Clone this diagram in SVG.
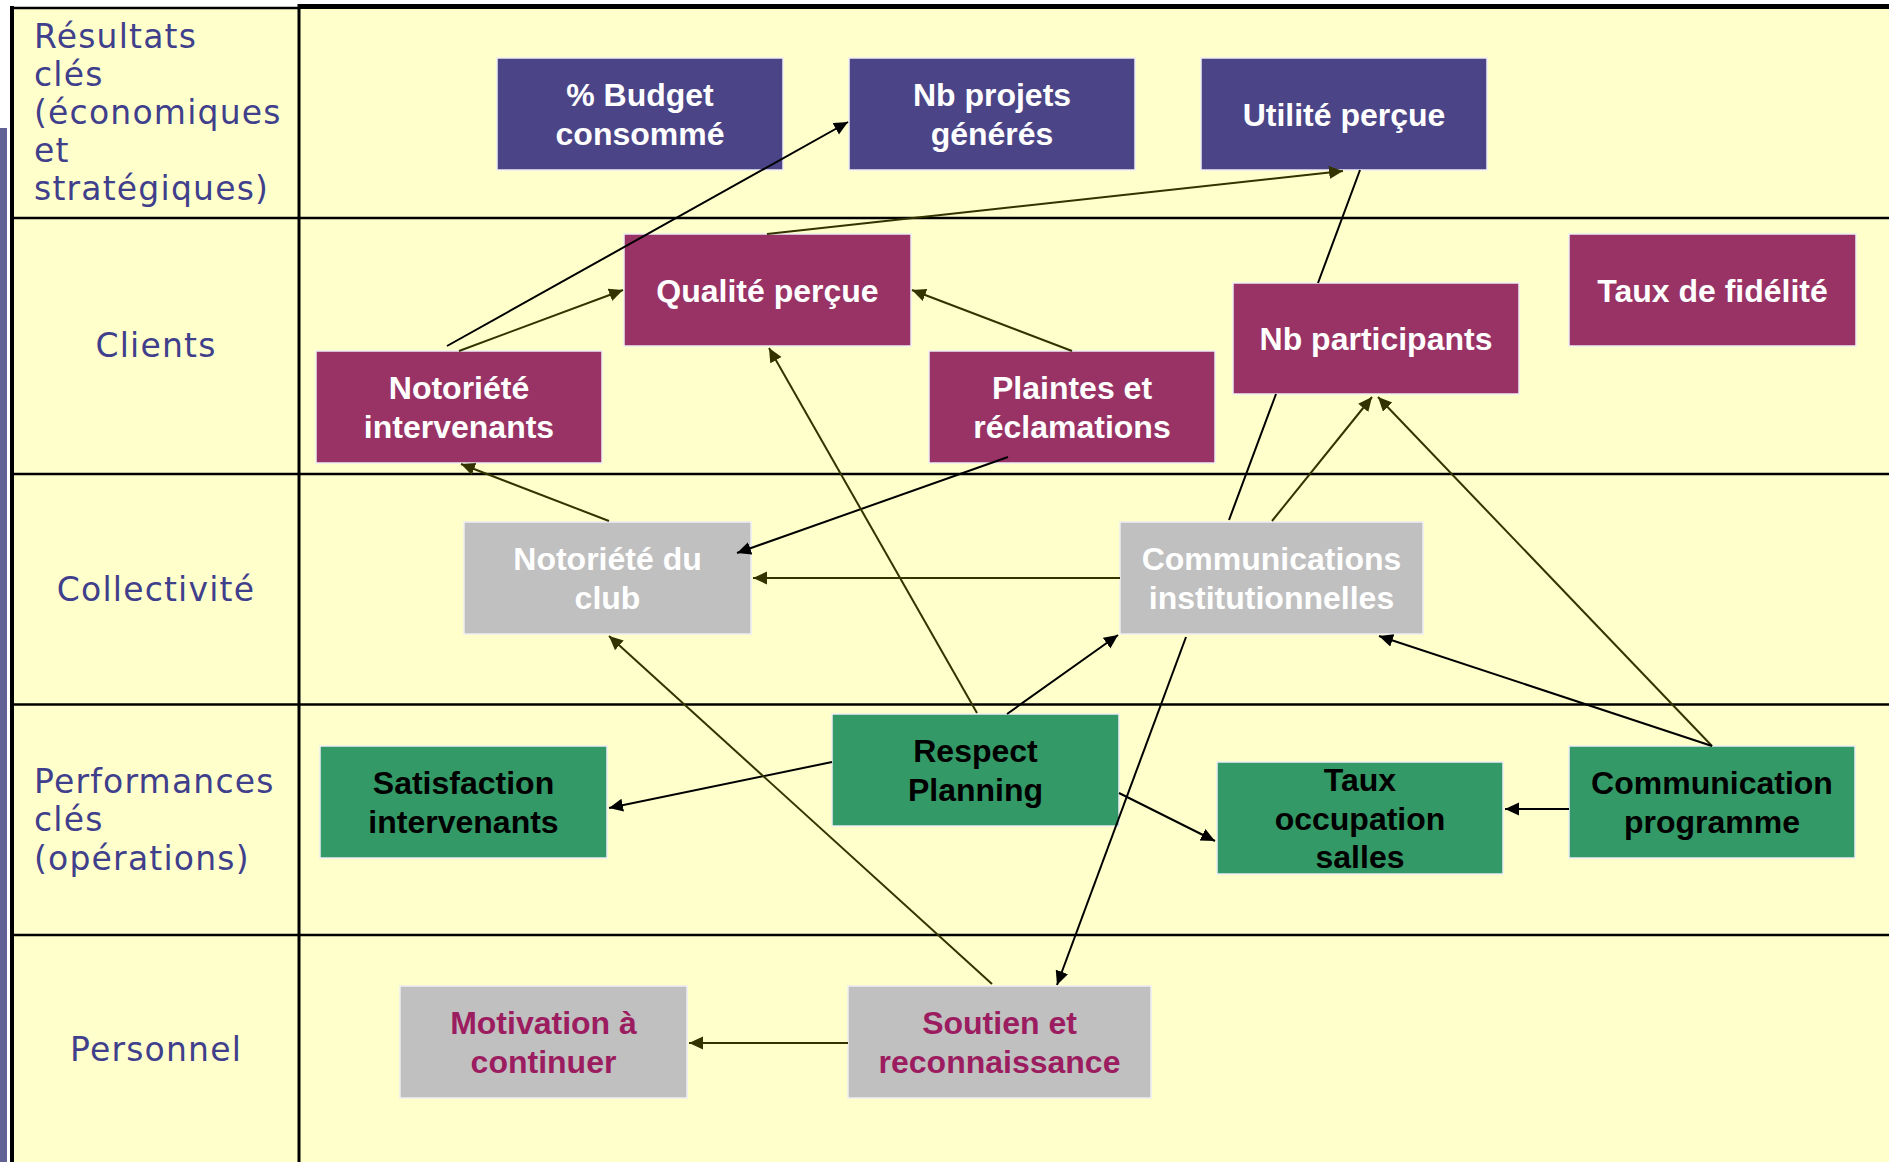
<svg xmlns="http://www.w3.org/2000/svg" width="1889" height="1162" viewBox="0 0 1889 1162">
<style>
.lbl{font-family:"DejaVu Sans",Verdana,sans-serif;font-size:33px;letter-spacing:1.2px;fill:#3F3F8C}
.c{text-anchor:middle}
.bt{font-family:"Liberation Sans",Arial,sans-serif;font-weight:bold;font-size:32px;text-anchor:middle}
.box{stroke:#EEEEF4;stroke-width:1.5}
.blue{fill:#4B4588}
.mag{fill:#993366}
.grn{fill:#339966}
.gry{fill:#C0C0C0}
.tw{fill:#FFFFFF}
.tk{fill:#000000}
.tm{fill:#9C1C60}
.k{stroke:#000;stroke-width:2;fill:none}
.o{stroke:#333300;stroke-width:2;fill:none}
.ka{marker-end:url(#ak)}
.oa{marker-end:url(#ao)}
.grid{stroke:#000;stroke-width:2.5}
</style>
<defs>
<marker id="ak" markerUnits="userSpaceOnUse" markerWidth="16" markerHeight="14" refX="14" refY="6.5" orient="auto">
<path d="M0,0 L14,6.5 L0,13 z" fill="#000"/>
</marker>
<marker id="ao" markerUnits="userSpaceOnUse" markerWidth="16" markerHeight="14" refX="14" refY="6.5" orient="auto">
<path d="M0,0 L14,6.5 L0,13 z" fill="#333300"/>
</marker>
</defs>
<rect x="0" y="0" width="1889" height="1162" fill="#FFFFFF"/>
<g id="table">
<rect x="12" y="7" width="1877" height="1155" fill="#FFFFCC"/>
<rect x="0" y="128" width="7" height="1034" fill="#616196"/>
<rect x="10" y="6" width="4" height="1156" fill="#000"/>
<rect x="298" y="4" width="1591" height="5" fill="#000"/>
<line class="grid" x1="10" y1="8" x2="299" y2="8"/>
<rect x="297.5" y="4" width="3" height="1158" fill="#000"/>
<line class="grid" x1="12" y1="218" x2="1889" y2="218"/>
<line class="grid" x1="12" y1="474" x2="1889" y2="474"/>
<line class="grid" x1="12" y1="704.5" x2="1889" y2="704.5"/>
<line class="grid" x1="12" y1="935" x2="1889" y2="935"/>
</g>
<g id="row-labels">
<text class="lbl" x="34" y="48">Résultats</text>
<text class="lbl" x="34" y="86">clés</text>
<text class="lbl" x="34" y="124">(économiques</text>
<text class="lbl" x="34" y="162">et</text>
<text class="lbl" x="34" y="200">stratégiques)</text>
<text class="lbl c" x="156" y="357">Clients</text>
<text class="lbl c" x="156" y="601">Collectivité</text>
<text class="lbl" x="34" y="793">Performances</text>
<text class="lbl" x="34" y="831">clés</text>
<text class="lbl" x="34" y="870">(opérations)</text>
<text class="lbl c" x="156" y="1061">Personnel</text>
</g>
<g id="budget"><rect class="box blue" x="497" y="58" width="286" height="112"/><text class="bt tw" x="640" y="106.3">% Budget</text><text class="bt tw" x="640" y="144.7">consommé</text></g>
<g id="nb-projets"><rect class="box blue" x="849" y="58" width="286" height="112"/><text class="bt tw" x="992" y="106.3">Nb projets</text><text class="bt tw" x="992" y="144.7">générés</text></g>
<g id="utilite"><rect class="box blue" x="1201" y="58" width="286" height="112"/><text class="bt tw" x="1344" y="125.5">Utilité perçue</text></g>
<g id="qualite"><rect class="box mag" x="624" y="234" width="287" height="112"/><text class="bt tw" x="767.5" y="301.5">Qualité perçue</text></g>
<g id="fidelite"><rect class="box mag" x="1569" y="234" width="287" height="112"/><text class="bt tw" x="1712.5" y="301.5">Taux de fidélité</text></g>
<g id="nb-participants"><rect class="box mag" x="1233" y="283" width="286" height="111"/><text class="bt tw" x="1376" y="350">Nb participants</text></g>
<g id="notoriete-intervenants"><rect class="box mag" x="316" y="351" width="286" height="112"/><text class="bt tw" x="459" y="399.3">Notoriété</text><text class="bt tw" x="459" y="437.7">intervenants</text></g>
<g id="plaintes"><rect class="box mag" x="929" y="351" width="286" height="112"/><text class="bt tw" x="1072" y="399.3">Plaintes et</text><text class="bt tw" x="1072" y="437.7">réclamations</text></g>
<g id="notoriete-club"><rect class="box gry" x="464" y="522" width="287" height="112"/><text class="bt tw" x="607.5" y="570.3">Notoriété du</text><text class="bt tw" x="607.5" y="608.7">club</text></g>
<g id="communications-institutionnelles"><rect class="box gry" x="1120" y="522" width="303" height="112"/><text class="bt tw" x="1271.5" y="570.3">Communications</text><text class="bt tw" x="1271.5" y="608.7">institutionnelles</text></g>
<g id="respect-planning"><rect class="box grn" x="832" y="714" width="287" height="112"/><text class="bt tk" x="975.5" y="762.3">Respect</text><text class="bt tk" x="975.5" y="800.7">Planning</text></g>
<g id="satisfaction"><rect class="box grn" x="320" y="746" width="287" height="112"/><text class="bt tk" x="463.5" y="794.3">Satisfaction</text><text class="bt tk" x="463.5" y="832.7">intervenants</text></g>
<g id="taux-occupation"><rect class="box grn" x="1217" y="762" width="286" height="112"/><text class="bt tk" x="1360" y="791.1">Taux</text><text class="bt tk" x="1360" y="829.5">occupation</text><text class="bt tk" x="1360" y="867.9">salles</text></g>
<g id="communication-programme"><rect class="box grn" x="1569" y="746" width="286" height="112"/><text class="bt tk" x="1712" y="794.3">Communication</text><text class="bt tk" x="1712" y="832.7">programme</text></g>
<g id="motivation"><rect class="box gry" x="400" y="986" width="287" height="112"/><text class="bt tm" x="543.5" y="1034.3">Motivation à</text><text class="bt tm" x="543.5" y="1072.7">continuer</text></g>
<g id="soutien"><rect class="box gry" x="848" y="986" width="303" height="112"/><text class="bt tm" x="999.5" y="1034.3">Soutien et</text><text class="bt tm" x="999.5" y="1072.7">reconnaissance</text></g>
<g id="connectors">
<path class="k" d="M1229,520 L1276,394 M1318,283 L1360,170"/>
<line class="k ka" x1="447" y1="346" x2="848" y2="122"/>
<line class="o oa" x1="459" y1="351" x2="623" y2="290"/>
<line class="o oa" x1="767" y1="234" x2="1343" y2="171"/>
<line class="o oa" x1="1072" y1="351" x2="912" y2="290"/>
<line class="k ka" x1="1008" y1="457" x2="737" y2="553"/>
<line class="o oa" x1="609" y1="521" x2="461" y2="464"/>
<line class="o oa" x1="1120" y1="578" x2="753" y2="578"/>
<line class="o oa" x1="1272" y1="521" x2="1372" y2="397"/>
<line class="o oa" x1="1712" y1="746" x2="1378" y2="397"/>
<line class="k ka" x1="1712" y1="746" x2="1379" y2="636"/>
<line class="k ka" x1="1569" y1="809" x2="1505" y2="809"/>
<line class="o oa" x1="977" y1="713" x2="769" y2="348"/>
<line class="k ka" x1="1007" y1="714" x2="1118" y2="635"/>
<line class="k ka" x1="832" y1="762" x2="609" y2="808"/>
<line class="k ka" x1="1119" y1="793" x2="1215" y2="841"/>
<line class="o oa" x1="992" y1="984" x2="609" y2="636"/>
<line class="k ka" x1="1186" y1="637" x2="1057" y2="985"/>
<line class="o oa" x1="848" y1="1043" x2="689" y2="1043"/>
</g>
</svg>
